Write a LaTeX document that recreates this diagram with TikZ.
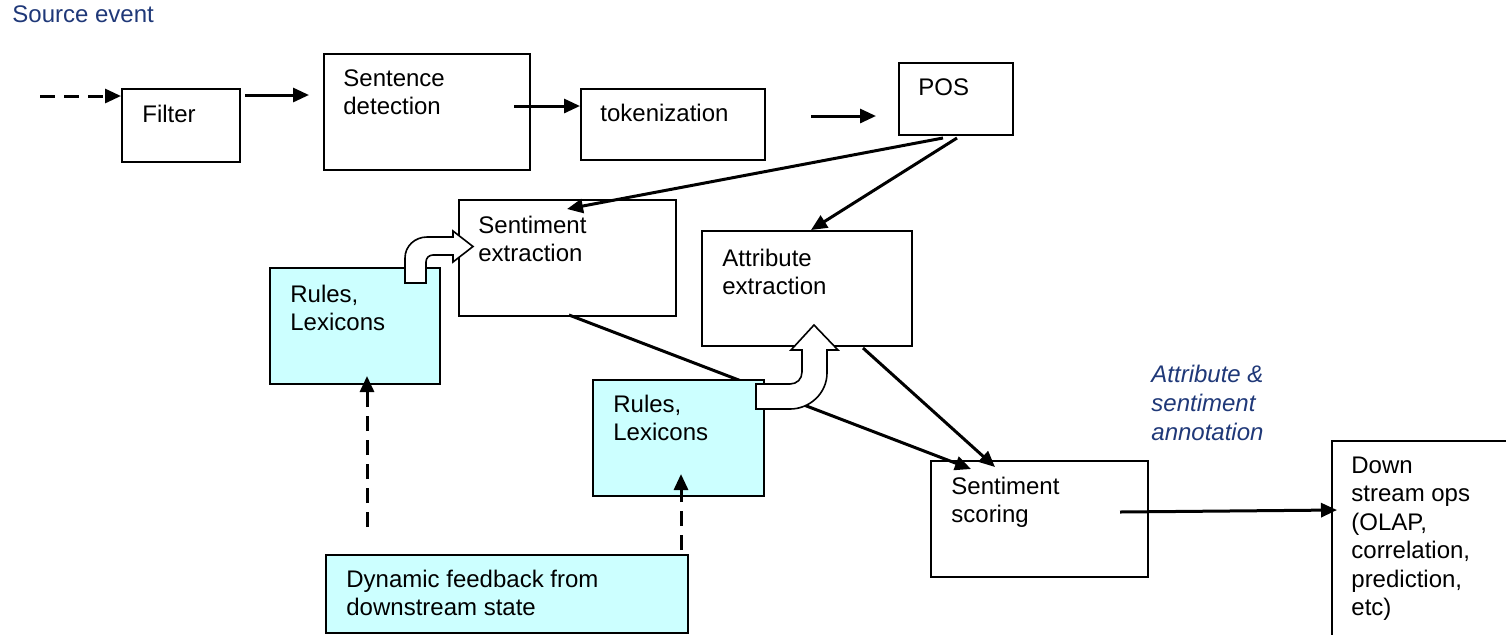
\documentclass[tikz,border=0pt]{standalone}
\usepackage{fontspec}
\setmainfont{Liberation Sans}
\usetikzlibrary{arrows.meta,calc,fit}
\definecolor{anncol}{RGB}{31,56,120}
\definecolor{cyanbox}{RGB}{204,255,255}
\newcommand{\ml}[1]{\begin{tabular}[t]{@{}l@{}}#1\end{tabular}}
\tikzset{
  box/.style={draw=black, line width=1pt, inner sep=0pt, fill=white},
  cbox/.style={box, fill=cyanbox},
  txt/.style={anchor=base west, inner sep=0pt, font=\fontsize{12}{14.25}\selectfont},
  arr/.style={line width=1.5pt, -{Triangle[length=8pt,width=7pt]}},
  darr/.style={arr, dash pattern=on 7.5pt off 4.5pt},
  blockarrow/.style={draw=black, fill=white, line width=0.8pt, line join=miter},
}
\begin{document}
\begin{tikzpicture}[x=0.5pt,y=-0.5pt]
\useasboundingbox (0,0) rectangle (1506,634);
\clip (0,0) rectangle (1506,634);

% title
\node[txt, text=anncol] (src) at (12,22) {Source event};

% white boxes
\node[box, fit={(122,89)(240,162)}] (filter) {};
\node[box, fit={(324,54)(530,170)}] (sd) {};
\node[box, fit={(581,89)(765,160)}] (tok) {};
\node[box, fit={(899,63)(1013,135)}] (pos) {};
\node[box, fit={(459,200)(676,316)}] (sent) {};
\node[box, fit={(702,231)(912,346)}] (attr) {};
\node[box, fit={(931,461)(1148,577)}] (score) {};
\node[box, fit={(1332,441)(1520,660)}] (down) {};

% line passing under the lower rules box
\draw[arr] ($(sent.south west)+(111,-2)$) -- ($(score.north west)+(41,9)$);

% cyan boxes
\node[cbox, fit={(270,268)(440,384)}] (rules1) {};
\node[cbox, fit={(593,380)(764,496)}] (rules2) {};
\node[cbox, fit={(326,555)(688,633)}] (dyn) {};

% texts
\node[txt] (filter-t) at ($(filter.north west)+(21,34)$) {Filter};
\node[txt] (sd-t) at ($(sd.north west)+(20,33)$) {\ml{Sentence\\detection}};
\node[txt] (tok-t) at ($(tok.north west)+(20,33)$) {tokenization};
\node[txt] (pos-t) at ($(pos.north west)+(20,33)$) {POS};
\node[txt] (sent-t) at ($(sent.north west)+(20,34)$) {\ml{Sentiment\\extraction}};
\node[txt] (attr-t) at ($(attr.north west)+(21,36)$) {\ml{Attribute\\extraction}};
\node[txt] (score-t) at ($(score.north west)+(21,34)$) {\ml{Sentiment\\scoring}};
\node[txt] (down-t) at ($(down.north west)+(20,33)$) {\ml{Down\\stream ops\\(OLAP,\\correlation,\\prediction,\\etc)}};
\node[txt] (rules1-t) at ($(rules1.north west)+(21,35)$) {\ml{Rules,\\Lexicons}};
\node[txt] (rules2-t) at ($(rules2.north west)+(21,33)$) {\ml{Rules,\\Lexicons}};
\node[txt] (dyn-t) at ($(dyn.north west)+(21,33)$) {\ml{Dynamic feedback from\\downstream state}};
\node[txt, font=\fontsize{12}{14.5}\selectfont\itshape, text=anncol] (ann) at (1151,382) {\ml{Attribute \&\\sentiment\\annotation}};

% block arrows
\draw[blockarrow] (405,283) -- (405,258) .. controls (405,246) and (415,237) .. (427,237)
  -- (453,237) -- (453,231) -- (473,246.5) -- (453,262) -- (453,255) -- (433,255)
  .. controls (429,255) and (426,258) .. (426,262) -- (426,283) -- cycle;
\draw[blockarrow] (756,384) -- (790,384) .. controls (797,384) and (802,379) .. (802,372)
  -- (802,350) -- (791,350) -- (814,325) -- (838,350) -- (827,350) -- (827,373)
  .. controls (827,393) and (810,409) .. (790,409) -- (756,409) -- cycle;

% connectors
\coordinate (srcin) at (40,96);
\draw[darr] (srcin) -- (filter.west |- srcin);
\draw[arr] ($(filter.north east)+(4,7)$) -- ($(sd.north west)+(-14,42)$);
\draw[arr] ($(sd.north east)+(-17,53)$) -- ($(tok.north west)+(0,18)$);
\draw[arr] ($(tok.north east)+(45,28)$) -- ($(pos.north west)+(-22,54)$);
\draw[arr] ($(pos.south west)+(45,2)$) -- ($(sent.north west)+(109,10)$);
\draw[arr] ($(pos.south west)+(59,2)$) -- ($(attr.north west)+(110,0)$);
\draw[arr] ($(attr.south west)+(162,1)$) -- ($(score.north west)+(65,7)$);
\draw[arr] ($(score.north west)+(190,52)$) -- ($(down.north west)+(6,70)$);
\draw[darr] ($(dyn.north west)+(42,-27)$) -- ($(rules1.south west)+(98,-9)$);
\draw[darr] ($(dyn.north west)+(356,-4)$) -- ($(rules2.south west)+(89,-23)$);
\end{tikzpicture}
\end{document}
